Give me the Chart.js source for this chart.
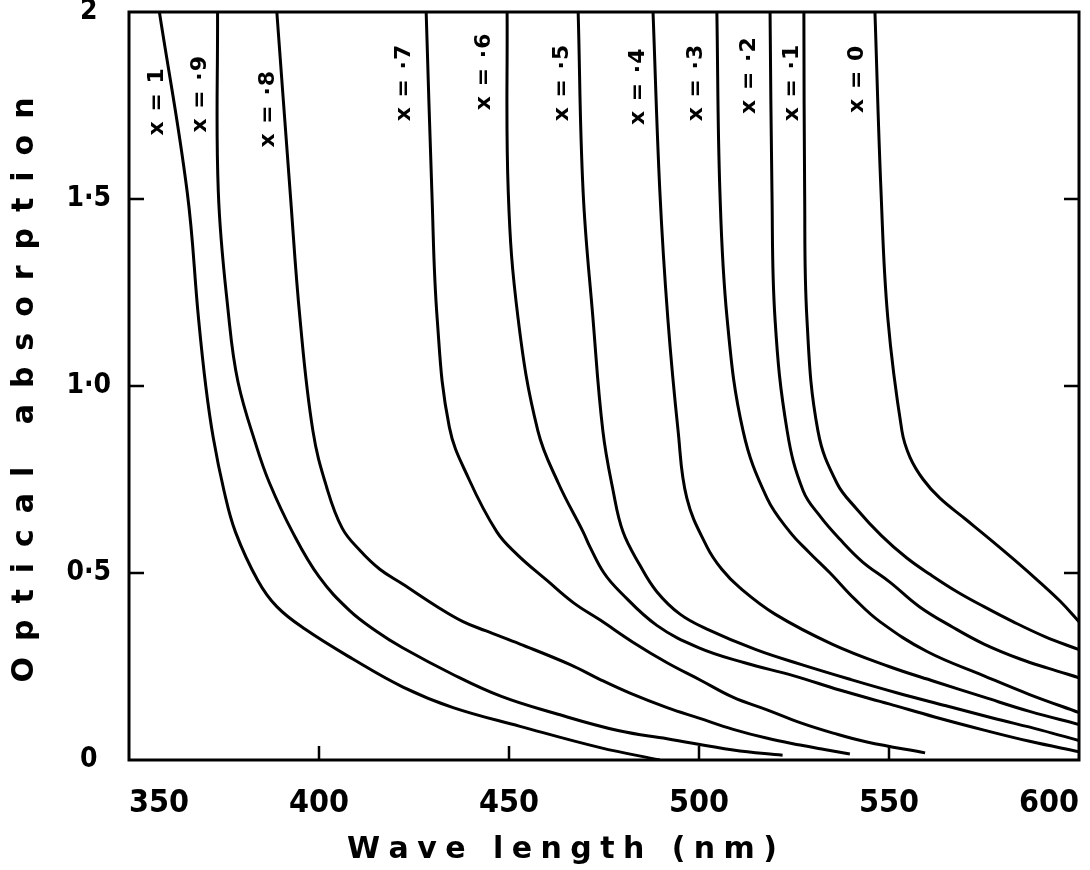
<!DOCTYPE html>
<html>
<head>
<meta charset="utf-8">
<script src="https://cdn.jsdelivr.net/npm/chart.js@4.4.0/dist/chart.umd.min.js"></script>
<style>
  body { margin: 0; background: #fff; }
  canvas { display: block; }
</style>
</head>
<body>
<canvas id="absChart" width="1090" height="870"></canvas>
<script>
// tick labels
var yTickLabels = ['0', '0·5', '1·0', '1·5', '2'];

// composition labels and where they sit (nm, absorption)
var compLabels = ['x = 1', 'x = ·9', 'x = ·8', 'x = ·7', 'x = ·6', 'x = ·5', 'x = ·4', 'x = ·3', 'x = ·2', 'x = ·1', 'x = 0'];
var labelNm  = [357.4, 368.7, 386.6, 422.4, 443.4, 463.9, 483.9, 499.2, 513.2, 524.5, 541.6];
var labelAbs = [1.76, 1.78, 1.74, 1.81, 1.84, 1.81, 1.80, 1.81, 1.83, 1.81, 1.82];

// absorption edges
var nm_10  = [358, 365.3, 368.3, 370.2, 372.2, 375, 378, 383.9, 388.9, 396.3, 408.9, 422.1, 435.3, 452.9, 474, 489.7];
var abs_10 = [2.0, 1.52, 1.18, 1.0, 0.86, 0.72, 0.61, 0.48, 0.41, 0.35, 0.27, 0.195, 0.14, 0.09, 0.033, 0.0];

var nm_09  = [373.3, 373.5, 376.3, 378.7, 383.5, 387, 393, 400, 408, 415, 422, 435, 448, 462, 479, 491.6, 509, 522];
var abs_09 = [2.0, 1.52, 1.18, 1.01, 0.84, 0.74, 0.61, 0.49, 0.40, 0.345, 0.30, 0.23, 0.17, 0.125, 0.078, 0.057, 0.027, 0.013];

var nm_08  = [388.9, 392.4, 395.0, 398.4, 402, 406.1, 410.8, 416, 422.1, 431.1, 437.9, 444, 452.9, 466.1, 474, 482, 491.6, 500, 509, 518, 526.6, 533, 539.7];
var abs_08 = [2.0, 1.52, 1.18, 0.88, 0.73, 0.62, 0.56, 0.51, 0.47, 0.41, 0.37, 0.345, 0.31, 0.255, 0.215, 0.178, 0.14, 0.112, 0.082, 0.058, 0.04, 0.028, 0.016];

var nm_07  = [428.2, 429.7, 431.1, 434.3, 439.5, 446.8, 452.1, 460, 467, 474, 482.6, 491.6, 500.3, 508.9, 517.9, 526.6, 535.3, 544.2, 559.5];
var abs_07 = [2.0, 1.52, 1.18, 0.89, 0.75, 0.61, 0.55, 0.48, 0.42, 0.374, 0.315, 0.26, 0.214, 0.168, 0.134, 0.10, 0.072, 0.048, 0.019];

var nm_06  = [449.5, 449.8, 452.4, 457.6, 463, 469.5, 471.3, 475, 479.2, 488.9, 500, 512, 525, 537, 550, 562, 575, 587, 600];
var abs_06 = [2.0, 1.52, 1.18, 0.88, 0.74, 0.61, 0.57, 0.50, 0.45, 0.36, 0.30, 0.26, 0.225, 0.187, 0.15, 0.115, 0.08, 0.05, 0.022];

var nm_05  = [468.2, 469.5, 472.1, 474.7, 477.4, 480, 484.5, 488.9, 495, 502.1, 515, 527, 540, 552, 565, 577, 590, 600];
var abs_05 = [2.0, 1.52, 1.18, 0.88, 0.72, 0.61, 0.52, 0.45, 0.39, 0.35, 0.295, 0.255, 0.215, 0.18, 0.145, 0.113, 0.08, 0.052];

var nm_04  = [487.9, 489.7, 491.8, 494.5, 496.8, 502.1, 506, 510.8, 520, 535, 550, 562, 575, 587, 600];
var abs_04 = [2.0, 1.52, 1.18, 0.88, 0.70, 0.57, 0.51, 0.46, 0.39, 0.31, 0.25, 0.21, 0.168, 0.13, 0.095];

var nm_03  = [504.7, 505.5, 507.4, 511.6, 517.9, 523.9, 529, 534.5, 541, 547.6, 560, 575, 587, 600];
var abs_03 = [2.0, 1.52, 1.18, 0.88, 0.70, 0.61, 0.555, 0.50, 0.43, 0.37, 0.29, 0.225, 0.175, 0.127];

var nm_02  = [518.7, 519.2, 520.0, 523.2, 527.4, 532, 537.1, 543, 550.3, 558, 566.8, 575, 584.5, 592, 600];
var abs_02 = [2.0, 1.52, 1.18, 0.88, 0.72, 0.65, 0.59, 0.53, 0.475, 0.41, 0.355, 0.31, 0.27, 0.245, 0.22];

var nm_01  = [527.6, 527.8, 528.4, 531.3, 536.3, 541.6, 548, 554.7, 561, 567.9, 575, 582.6, 591, 600];
var abs_01 = [2.0, 1.52, 1.18, 0.88, 0.74, 0.67, 0.60, 0.54, 0.495, 0.45, 0.41, 0.37, 0.33, 0.295];

var nm_00  = [546.3, 547.9, 549.7, 553.4, 555.5, 559, 563.4, 570, 576.6, 583, 589.7, 595, 600];
var abs_00 = [2.0, 1.52, 1.18, 0.88, 0.81, 0.75, 0.70, 0.645, 0.59, 0.535, 0.475, 0.425, 0.37];

var curvesNm  = [nm_10, nm_09, nm_08, nm_07, nm_06, nm_05, nm_04, nm_03, nm_02, nm_01, nm_00];
var curvesAbs = [abs_10, abs_09, abs_08, abs_07, abs_06, abs_05, abs_04, abs_03, abs_02, abs_01, abs_00];

var FONT = '"DejaVu Sans", sans-serif';
var TICK_FONT = '"DejaVu Sans Condensed", "DejaVu Sans", sans-serif';

var datasets = curvesNm.map(function(xs, i) {
    return {
        label: compLabels[i],
        data: xs.map(function(x, j) { return { x: x, y: curvesAbs[i][j] }; }),
        borderColor: '#000',
        borderWidth: 3,
        pointRadius: 0,
        fill: false,
        tension: 0.4
    };
});

// text with extra gap between characters, centred on (cx, cy)
function spacedText(ctx, text, cx, cy, gap) {
    var chars = Array.from(text);
    var widths = chars.map(function(c) { return ctx.measureText(c).width; });
    var total = widths.reduce(function(s, w) { return s + w; }, 0) + gap * (chars.length - 1);
    var x = cx - total / 2;
    ctx.textAlign = 'left';
    ctx.textBaseline = 'middle';
    chars.forEach(function(c, i) {
        ctx.fillText(c, x, cy);
        x += widths[i] + gap;
    });
}

function gapFor(ctx, text, span) {
    var chars = Array.from(text);
    var w = chars.reduce(function(s, c) { return s + ctx.measureText(c).width; }, 0);
    return (span - w) / (chars.length - 1);
}

// box round the plot with inward tick marks
var framePlugin = {
    id: 'frame',
    afterDatasetsDraw: function(chart) {
        var ctx = chart.ctx, a = chart.chartArea;
        var xs = chart.scales.x, ys = chart.scales.y;
        ctx.save();
        ctx.strokeStyle = '#000';
        ctx.lineWidth = 3;
        ctx.strokeRect(a.left, a.top, a.right - a.left, a.bottom - a.top);
        ctx.lineWidth = 2.5;
        ctx.beginPath();
        xs.ticks.forEach(function(t) {
            if (t.value <= xs.min || t.value >= xs.max) return;
            var px = xs.getPixelForValue(t.value);
            ctx.moveTo(px, a.bottom);
            ctx.lineTo(px, a.bottom - 14);
        });
        ys.ticks.forEach(function(t) {
            if (t.value <= ys.min || t.value >= ys.max) return;
            var py = ys.getPixelForValue(t.value);
            ctx.moveTo(a.left, py);
            ctx.lineTo(a.left + 15, py);
            ctx.moveTo(a.right, py);
            ctx.lineTo(a.right - 15, py);
        });
        ctx.stroke();
        ctx.restore();
    }
};

// rotated composition labels next to each curve
var curveLabelPlugin = {
    id: 'curveLabels',
    afterDatasetsDraw: function(chart) {
        var ctx = chart.ctx;
        var xs = chart.scales.x, ys = chart.scales.y;
        ctx.save();
        ctx.fillStyle = '#000';
        ctx.font = 'bold 22px ' + FONT;
        compLabels.forEach(function(txt, i) {
            ctx.save();
            ctx.translate(xs.getPixelForValue(labelNm[i]), ys.getPixelForValue(labelAbs[i]));
            ctx.rotate(-Math.PI / 2);
            spacedText(ctx, txt, 0, 0, 1);
            ctx.restore();
        });
        ctx.restore();
    }
};

// letter-spaced axis titles
var axisTitlePlugin = {
    id: 'axisTitles',
    afterDraw: function(chart) {
        var ctx = chart.ctx;
        ctx.save();
        ctx.fillStyle = '#000';
        ctx.font = 'bold 30px ' + FONT;
        var xt = 'Wave length (nm)';
        spacedText(ctx, xt, 562, 850, gapFor(ctx, xt, 430));
        var yt = 'Optical absorption';
        ctx.translate(25, 390);
        ctx.rotate(-Math.PI / 2);
        spacedText(ctx, yt, 0, 0, gapFor(ctx, yt, 585));
        ctx.restore();
    }
};

var ctx = document.getElementById('absChart').getContext('2d');
var absChart = new Chart(ctx, {
    type: 'line',
    data: { datasets: datasets },
    options: {
        responsive: false,
        animation: false,
        devicePixelRatio: 1,
        layout: { padding: { left: 50, right: 11, top: 12, bottom: 0 } },
        plugins: {
            legend: { display: false },
            tooltip: { enabled: false }
        },
        scales: {
            x: {
                type: 'linear',
                min: 350,
                max: 600,
                grid: { display: false },
                border: { display: false },
                ticks: {
                    stepSize: 50,
                    align: 'inner',
                    padding: 16,
                    color: '#000',
                    font: { family: TICK_FONT, size: 32, weight: 'bold' }
                },
                afterFit: function(scale) {
                    scale.height = 110;
                    scale.paddingLeft = 0;
                    scale.paddingRight = 0;
                }
            },
            y: {
                min: 0,
                max: 2,
                grid: { display: false },
                border: { display: false },
                ticks: {
                    stepSize: 0.5,
                    crossAlign: 'center',
                    padding: 10,
                    color: '#000',
                    font: { family: TICK_FONT, size: 28, weight: 'bold' },
                    callback: function(value, index) { return yTickLabels[index]; }
                },
                afterFit: function(scale) {
                    scale.width = 79;
                    scale.paddingTop = 0;
                    scale.paddingBottom = 0;
                }
            }
        }
    },
    plugins: [framePlugin, curveLabelPlugin, axisTitlePlugin]
});
</script>
</body>
</html>
